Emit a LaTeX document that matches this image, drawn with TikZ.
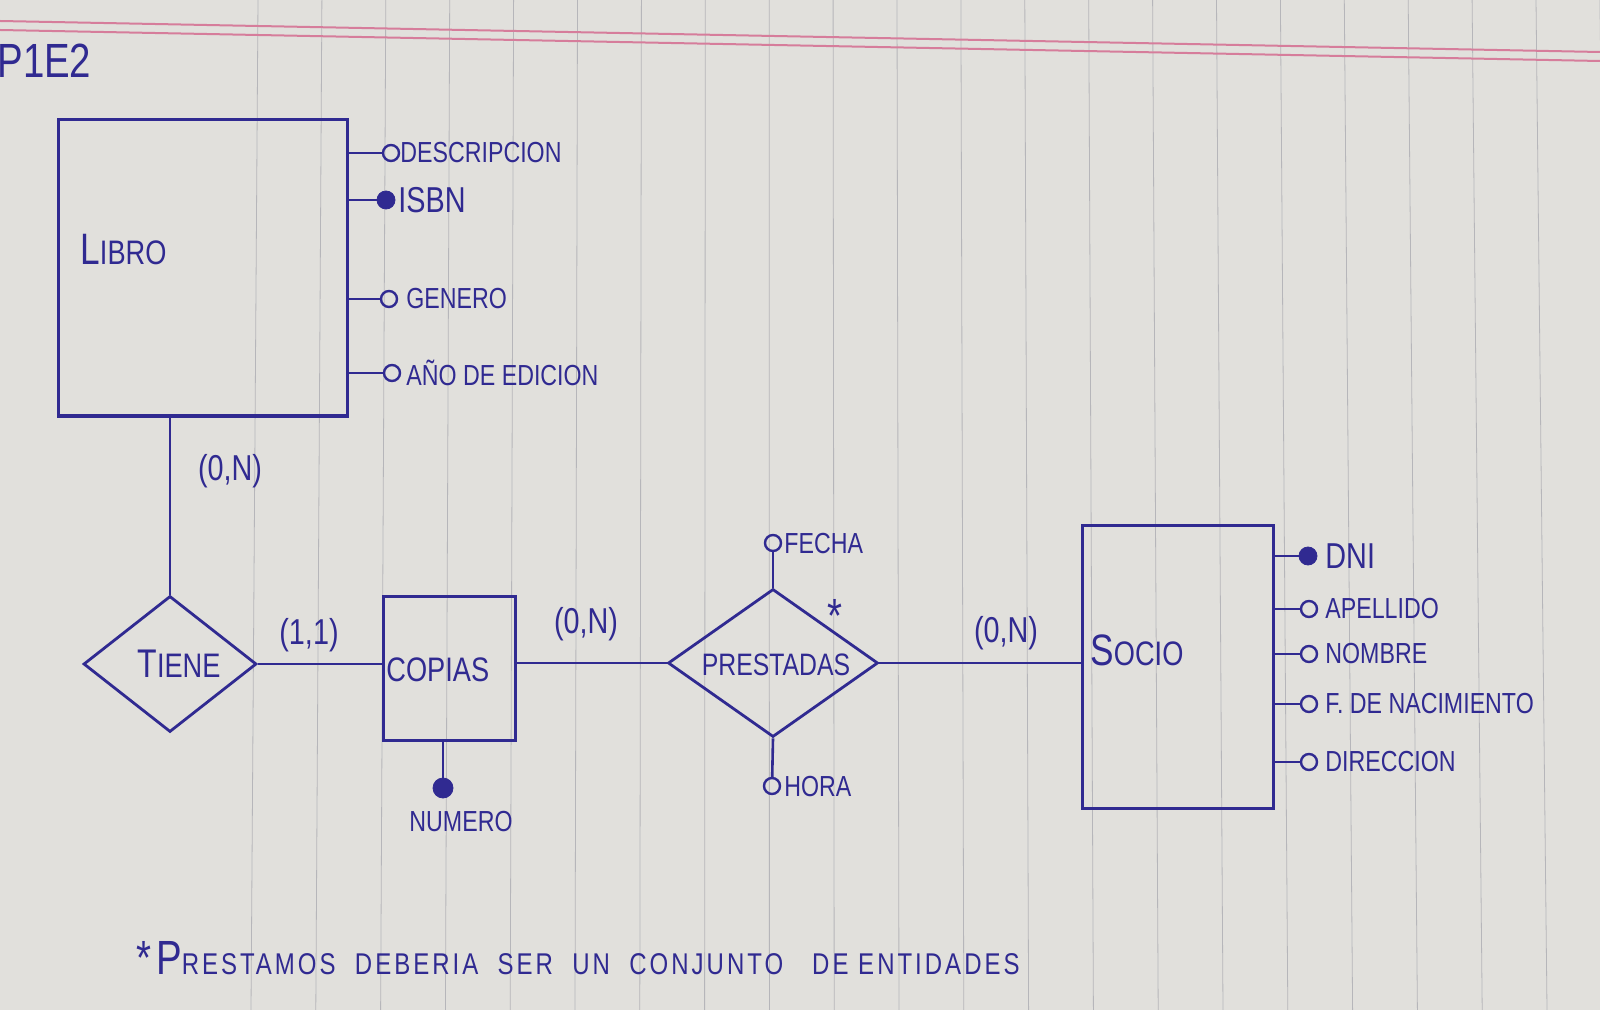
\documentclass[tikz,border=0pt]{standalone}
\usepackage{fontspec}
\newfontfamily\hand[FakeStretch=0.8]{Liberation Sans}
\newfontfamily\handwide[FakeStretch=0.8,LetterSpace=10]{Liberation Sans}
\usetikzlibrary{shapes.geometric}
\definecolor{ink}{RGB}{48,42,145}
\definecolor{paper}{RGB}{225,224,220}
\definecolor{rulecol}{RGB}{182,182,186}
\definecolor{pinkline}{RGB}{214,125,155}
\tikzset{
  entity/.style={draw=ink, line width=1.5pt, inner sep=0pt},
  rel/.style={diamond, draw=ink, line width=1.4pt, inner sep=0pt},
  conn/.style={draw=ink, line width=1.3pt},
  attr/.style={circle, draw=ink, line width=1.2pt, inner sep=0pt, minimum size=8pt},
  keyattr/.style={circle, fill=ink, draw=ink, inner sep=0pt, minimum size=9pt},
  lbl/.style={text=ink, font=\hand\fontsize{14.5}{14.5}\selectfont, inner sep=0pt, anchor=west},
  card/.style={text=ink, font=\hand\fontsize{18}{18}\selectfont, inner sep=0pt},
  ename/.style={text=ink, font=\hand\fontsize{17}{17}\selectfont, inner sep=0pt, anchor=west},
}
\begin{document}
\begin{tikzpicture}[x=0.5pt,y=-0.5pt]
\useasboundingbox (0,0) rectangle (1600,1010);
% paper
\fill[paper] (0,0) rectangle (1600,1010);
\foreach \k in {0,...,21} \draw[rulecol, line width=0.4pt] ({258+63.9*\k},0) -- ({251+64.8*\k},1010);
\draw[pinkline, line width=1pt] (0,21) -- (1600,52);
\draw[pinkline, line width=1pt] (0,30) -- (1600,61);

% title
\node[text=ink, font=\hand\fontsize{24}{24}\selectfont, anchor=west, inner sep=0pt] (title) at (-3,61) {P1E2};

% LIBRO
\node[entity, minimum width=144.5pt, minimum height=148pt] (libro) at (202.5,268) {};
\node[ename] (libroT) at (80,250) {{\fontsize{22}{22}\selectfont L}IBRO};
\node[attr] (l1) at (391,153) {};
\node[keyattr] (l2) at (386,200) {};
\node[attr] (l3) at (389,299) {};
\node[attr] (l4) at (392,373) {};
\foreach \a in {l1,l2,l3,l4} \draw[conn] (libro.east |- \a) -- (\a);
\node[lbl] (l1t) at (400,153) {DESCRIPCION};
\node[lbl, font=\hand\fontsize{18}{18}\selectfont] (l2t) at (398,200) {ISBN};
\node[lbl] (l3t) at (406,299) {GENERO};
\node[lbl] (l4t) at (406,373) {AÑO DE EDICION};

% TIENE
\node[rel, minimum width=86.5pt, minimum height=68pt] (tiene) at (170,664) {};
\node[ename, anchor=center] (tieneT) at (179,664) {{\fontsize{20}{20}\selectfont T}IENE};
\draw[conn] (tiene.north |- libro.south) -- (tiene.north);
\node[card] (c1) at (230,471) {(0,N)};

% COPIAS
\node[entity, minimum width=66pt, minimum height=72pt] (copias) at (449,668) {};
\node[ename] (copiasT) at (386,670) {COPIAS};
\draw[conn] (tiene.east) -- (copias.west |- tiene.east);
\node[card] (c2) at (309,635) {(1,1)};
\node[keyattr, minimum size=10pt] (num) at (443,788) {};
\draw[conn] (copias.south -| num) -- (num);
\node[lbl, anchor=center] (numT) at (461,822) {NUMERO};

% PRESTADAS
\node[rel, minimum width=105pt, minimum height=74pt] (prest) at (773,663) {};
\node[lbl, anchor=center, font=\hand\fontsize{15.5}{15.5}\selectfont] (prestT) at (776,665) {PRESTADAS};
\draw[conn] (copias.east |- prest.west) -- (prest.west);
\node[card] (c3) at (586,624) {(0,N)};
\node[attr] (fecha) at (773,543) {};
\draw[conn] (fecha) -- (prest.north);
\node[lbl] (fechaT) at (784,544) {FECHA};
\node[attr] (hora) at (772,786) {};
\draw[conn] (prest.south) -- (hora);
\node[lbl] (horaT) at (784,787) {HORA};
\node[text=ink, font=\hand\fontsize{24}{24}\selectfont, inner sep=0pt] (star) at (835,616) {*};

% SOCIO
\node[entity, minimum width=95.5pt, minimum height=141.5pt] (socio) at (1177.5,666.5) {};
\node[ename] (socioT) at (1090,650) {{\fontsize{22}{22}\selectfont S}OCIO};
\draw[conn] (prest.east) -- (socio.west |- prest.east);
\node[card] (c4) at (1006,633) {(0,N)};
\node[keyattr] (s1) at (1308,556) {};
\node[attr] (s2) at (1309,609) {};
\node[attr] (s3) at (1309,654) {};
\node[attr] (s4) at (1309,704) {};
\node[attr] (s5) at (1309,762) {};
\foreach \a in {s1,s2,s3,s4,s5} \draw[conn] (socio.east |- \a) -- (\a);
\node[lbl, font=\hand\fontsize{18}{18}\selectfont] (s1t) at (1325,556) {DNI};
\node[lbl] (s2t) at (1325,609) {APELLIDO};
\node[lbl] (s3t) at (1325,654) {NOMBRE};
\node[lbl] (s4t) at (1325,704) {F. DE NACIMIENTO};
\node[lbl] (s5t) at (1325,762) {DIRECCION};

% footnote
\node[lbl, font=\handwide\fontsize{15}{15}\selectfont] (note) at (136,958) {{\fontsize{24}{24}\selectfont *P}RESTAMOS\ \ DEBERIA\ \ SER\ \ UN\ \ CONJUNTO\ \ \ DE\ ENTIDADES};
\end{tikzpicture}
\end{document}
